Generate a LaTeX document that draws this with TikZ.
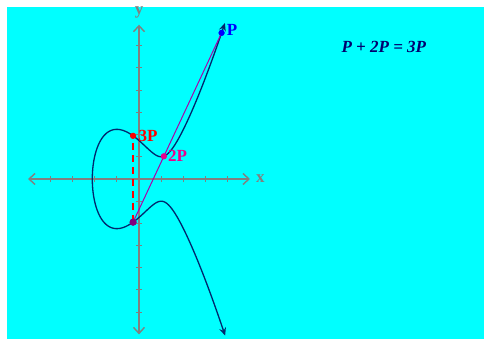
\documentclass[tikz,border=0pt]{standalone}
\usepackage{fontspec}
\setmainfont{Liberation Serif}
\usetikzlibrary{arrows.meta}
\definecolor{bgcyan}{RGB}{0,255,255}
\definecolor{axisgray}{RGB}{128,128,128}
\definecolor{curvenavy}{RGB}{0,40,110}
\definecolor{linemag}{RGB}{170,0,170}
\definecolor{ptpurple}{RGB}{128,0,128}
\definecolor{eqnavy}{RGB}{0,0,110}
\tikzset{
  axisline/.style={draw=axisgray, line width=1.4pt, {Straight Barb[length=6pt,width=11pt]}-{Straight Barb[length=6pt,width=11pt]}},
  tick/.style={draw=axisgray, line width=1pt},
  curveline/.style={draw=curvenavy, line width=1.3pt, {Stealth[length=8pt,width=7pt,inset=3pt]}-{Stealth[length=8pt,width=7pt,inset=3pt]}},
  dotmark/.style={circle, inner sep=0pt, minimum size=6pt},
  ptlabel/.style={font=\fontsize{17}{17}\selectfont\bfseries, inner sep=0pt},
  axlabel/.style={font=\fontsize{17}{17}\selectfont\bfseries, text=axisgray, inner sep=0pt}
}
\begin{document}
\begin{tikzpicture}[x=22.2pt, y=22.2pt]
% canvas: origin at math origin (139px,179px)
\useasboundingbox (-6.2613,8.0631) rectangle (15.5405,-7.2072);
\fill[white] (-6.2613,8.0631) rectangle (15.5405,-7.2072);
\fill[bgcyan] (-5.9459,7.7477) rectangle (15.5405,-7.2072);
% axes
\coordinate (xl) at (-5,0);
\coordinate (xr) at (5,0);
\coordinate (yb) at (0,-7);
\coordinate (yt) at (0,6.95);
\draw[axisline] (xl) -- (xr);
\draw[axisline] (yb) -- (yt);
\foreach \i in {-4,-3,-2,-1,1,2,3,4} \draw[tick] (\i,-0.14) -- (\i,0.14);
\foreach \i in {-6,-5,-4,-3,-2,-1,1,2,3,4,5,6} \draw[tick] (-0.14,\i) -- (0.14,\i);
\node[axlabel, anchor=center] (xlab) at (5.47,0.02) {x};
\node[axlabel, anchor=base] (ylab) at (0,7.41) {y};
% curve y^2 = x^3 - 3x + 3
\draw[curveline] plot[domain=-2.4462:2.4462, samples=240]
  ({-2.1038+(\x)*(\x)}, {(\x)*sqrt((-2.1038+(\x)*(\x))*(-2.1038+(\x)*(\x)) - 2.1038*(-2.1038+(\x)*(\x)) + 1.42597)});
% points
\node[dotmark, fill=blue] (P) at (3.72,6.5817) {};
\node[dotmark, fill=magenta] (P2) at (1.1209,1.0230) {};
\node[dotmark, fill=red] (P3) at (-0.2669,1.9451) {};
\node[dotmark, minimum size=7pt, fill=ptpurple] (M3) at (-0.2669,-1.9451) {};
% connectors
\draw[linemag, line width=1pt] (P.center) -- (M3.center);
\draw[red, line width=1.2pt, dash pattern=on 7pt off 5pt] (M3.center) -- (P3.center);
% redraw dots on top
\fill[blue] (P) circle (3pt);
\fill[magenta] (P2) circle (3pt);
\fill[red] (P3) circle (3pt);
\fill[ptpurple] (M3) circle (3.5pt);
% labels
\node[ptlabel, text=blue, anchor=west] (Plab) at (3.95,6.7) {P};
\node[ptlabel, text=red, anchor=west] (P3lab) at (-0.03,1.96) {3P};
\node[ptlabel, text=magenta, anchor=west] (P2lab) at (1.3,1.03) {2P};
\node[font=\fontsize{17}{17}\selectfont\bfseries\itshape, text=eqnavy, inner sep=0pt] (eq) at (11.03,5.95) {P + 2P = 3P};
\end{tikzpicture}
\end{document}
